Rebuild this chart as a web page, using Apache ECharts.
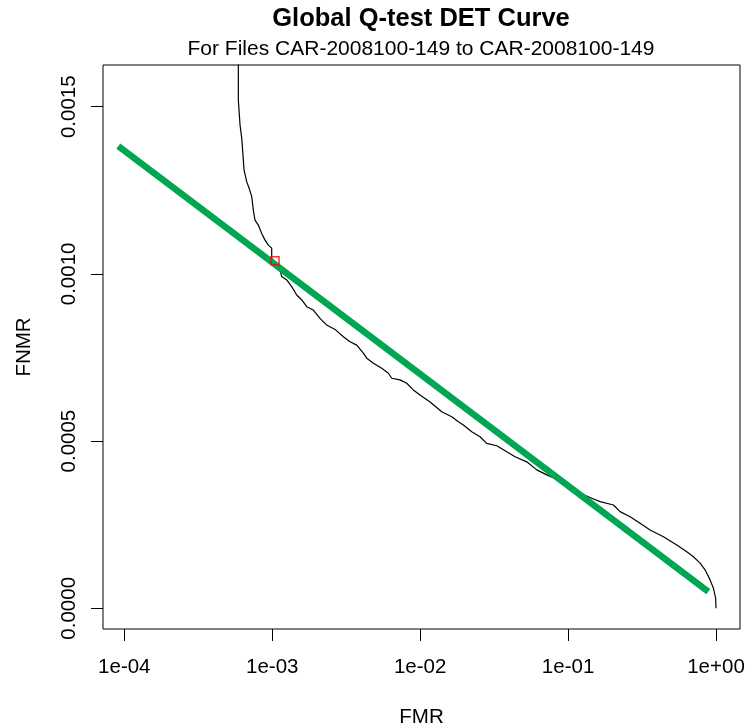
<!DOCTYPE html>
<html><head><meta charset="utf-8">
<script src="https://cdn.jsdelivr.net/npm/echarts@6/dist/echarts.min.js"></script>
<style>html,body{margin:0;padding:0;background:#fff}#c{width:747px;height:728px}</style>
</head><body><div id="c"></div>
<script>
// DET curve (FMR, FNMR)
const fmr = [5.90e-4, 5.90e-4, 6.06e-4, 6.06e-4, 6.22e-4, 6.22e-4, 6.38e-4, 6.45e-4, 6.72e-4, 6.97e-4,
  7.27e-4, 7.45e-4, 7.65e-4, 8.05e-4, 8.49e-4, 8.94e-4, 9.41e-4, 9.92e-4, 9.92e-4, 1.028e-3,
  1.061e-3, 1.129e-3, 1.159e-3, 1.253e-3, 1.354e-3, 1.464e-3, 1.583e-3, 1.711e-3, 1.896e-3, 2.104e-3,
  2.336e-3, 2.658e-3, 3.025e-3, 3.357e-3, 3.726e-3, 4.130e-3, 4.355e-3, 4.827e-3, 5.50e-3, 6.10e-3,
  6.43e-3, 7.31e-3, 8.12e-3, 8.99e-3, 9.98e-3, 1.167e-2, 1.400e-2, 1.636e-2, 1.813e-2, 1.960e-2,
  2.233e-2, 2.541e-2, 2.820e-2, 3.295e-2, 3.850e-2, 4.382e-2, 5.257e-2, 6.143e-2, 7.178e-2, 8.60e-2,
  9.80e-2, 0.1145, 0.1446, 0.1646, 0.2025, 0.2246, 0.2626, 0.3068, 0.3584, 0.4410,
  0.5433, 0.6348, 0.7034, 0.7808, 0.8437, 0.9123, 0.9603, 0.995, 1.0];
const fnmr = [17.0e-4, 15.20e-4, 15.20e-4, 14.45e-4, 14.45e-4, 14.06e-4, 14.06e-4, 13.11e-4, 12.76e-4, 12.57e-4,
  12.31e-4, 11.91e-4, 11.61e-4, 11.46e-4, 11.21e-4, 11.01e-4, 10.86e-4, 10.77e-4, 10.47e-4, 10.36e-4,
  10.24e-4, 10.12e-4, 9.92e-4, 9.82e-4, 9.62e-4, 9.37e-4, 9.22e-4, 9.02e-4, 8.92e-4, 8.67e-4,
  8.47e-4, 8.34e-4, 8.12e-4, 7.97e-4, 7.87e-4, 7.63e-4, 7.48e-4, 7.33e-4, 7.18e-4, 7.03e-4,
  6.88e-4, 6.83e-4, 6.73e-4, 6.53e-4, 6.38e-4, 6.17e-4, 5.88e-4, 5.73e-4, 5.58e-4, 5.48e-4,
  5.28e-4, 5.13e-4, 4.93e-4, 4.86e-4, 4.68e-4, 4.53e-4, 4.38e-4, 4.14e-4, 3.99e-4, 3.84e-4,
  3.64e-4, 3.49e-4, 3.29e-4, 3.19e-4, 3.09e-4, 2.89e-4, 2.74e-4, 2.54e-4, 2.34e-4, 2.14e-4,
  1.89e-4, 1.69e-4, 1.54e-4, 1.35e-4, 1.15e-4, 0.85e-4, 0.60e-4, 0.30e-4, 0];
// fitted straight line (green)
const fitFmr = [9.11e-5, 0.887];
const fitFnmr = [13.82e-4, 0.50e-4];
// highlighted operating point (red square)
const markFmr = [1.045e-3];
const markFnmr = [10.39e-4];
// axis ticks
const xTickValues = [1e-4, 1e-3, 1e-2, 1e-1, 1];
const xTickLabels = ['1e-04', '1e-03', '1e-02', '1e-01', '1e+00'];
const yTickValues = [0, 0.0005, 0.0010, 0.0015];
const yTickLabels = ['0.0000', '0.0005', '0.0010', '0.0015'];
const xRange = [7.178e-5, 1.453];
const yRange = [-0.619e-4, 16.247e-4];

const FONT = '"Liberation Sans", Arial, Helvetica, sans-serif';
const chart = echarts.init(document.getElementById('c'), null, {renderer: 'canvas'});

function xFmt(v) {
  for (let i = 0; i < xTickValues.length; i++) {
    if (Math.abs(Math.log10(v) - Math.log10(xTickValues[i])) < 1e-6) return xTickLabels[i];
  }
  return '';
}
function yFmt(v) {
  for (let i = 0; i < yTickValues.length; i++) {
    if (Math.abs(v - yTickValues[i]) < 1e-9) return yTickLabels[i];
  }
  return '';
}

chart.setOption({
  animation: false,
  backgroundColor: '#ffffff',
  title: {
    text: 'Global Q-test DET Curve',
    subtext: 'For Files CAR-2008100-149 to CAR-2008100-149',
    left: 421, top: 6, padding: 0, itemGap: 7, textAlign: 'center',
    textStyle: {fontFamily: FONT, fontSize: 25.5, fontWeight: 'bold', color: '#000'},
    subtextStyle: {fontFamily: FONT, fontSize: 21, color: '#000'}
  },
  grid: {left: 103, right: 7, top: 65, bottom: 99, show: true, borderColor: '#000', borderWidth: 1,
    backgroundColor: 'transparent', containLabel: false, outerBoundsMode: 'none'},
  xAxis: {
    type: 'log', logBase: 10, min: xRange[0], max: xRange[1],
    name: 'FMR', nameLocation: 'middle', nameGap: 78,
    nameTextStyle: {fontFamily: FONT, fontSize: 20.5, color: '#000'},
    axisLine: {show: false, onZero: false},
    axisTick: {show: true, length: 12, customValues: xTickValues, lineStyle: {color: '#000', width: 1}},
    axisLabel: {customValues: xTickValues, formatter: xFmt, margin: 28,
      fontFamily: FONT, fontSize: 20.5, color: '#000'},
    splitLine: {show: false}, minorTick: {show: false}
  },
  yAxis: {
    type: 'value', min: yRange[0], max: yRange[1],
    name: 'FNMR', nameLocation: 'middle', nameGap: 68,
    nameTextStyle: {fontFamily: FONT, fontSize: 20.5, color: '#000'},
    axisLine: {show: false, onZero: false},
    axisTick: {show: true, length: 12, customValues: yTickValues, lineStyle: {color: '#000', width: 1}},
    axisLabel: {customValues: yTickValues, formatter: yFmt, rotate: 90, margin: 23,
      fontFamily: FONT, fontSize: 20.5, color: '#000'},
    splitLine: {show: false}
  },
  series: [
    {
      type: 'line', name: 'DET', data: fmr.map((x, i) => [x, fnmr[i]]),
      showSymbol: false, symbol: 'none', clip: true,
      lineStyle: {color: '#000', width: 1.2}, z: 2
    },
    {
      type: 'line', name: 'fit', data: fitFmr.map((x, i) => [x, fitFnmr[i]]),
      showSymbol: false, symbol: 'none', clip: true,
      lineStyle: {color: '#00A651', width: 6.5, cap: 'butt'}, z: 3
    },
    {
      type: 'scatter', name: 'point', data: markFmr.map((x, i) => [x, markFnmr[i]]),
      symbol: 'rect', symbolSize: 8,
      itemStyle: {color: 'rgba(0,0,0,0)', borderColor: '#ff0000', borderWidth: 1.5}, z: 4
    }
  ]
});
</script>
</body></html>
